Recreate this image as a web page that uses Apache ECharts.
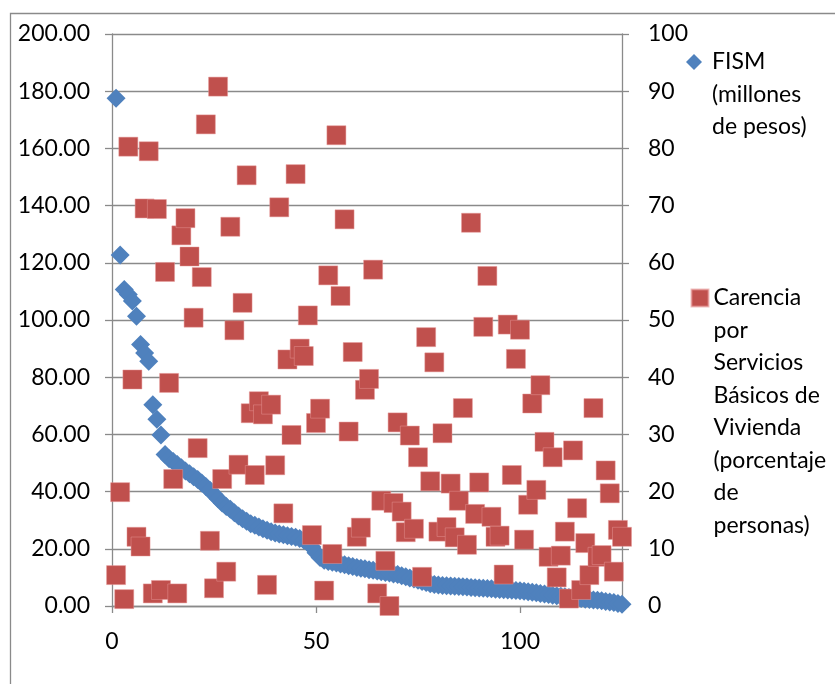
<!DOCTYPE html>
<html>
<head>
<meta charset="utf-8">
<script src="https://cdn.jsdelivr.net/npm/echarts@6/dist/echarts.min.js"></script>
<style>
html,body{margin:0;padding:0;background:#fff;}
#chart{width:835px;height:684px;}
</style>
</head>
<body>
<div id="chart"></div>
<script>
// FISM (millones de pesos), left axis, x = 1..125
var fism = [
  177.5, 122.7, 110.7, 108.9, 106.6, 101.3, 91.4, 88.5, 85.6, 70.4, 65.3, 59.8, 53.0,
  51.5, 50.5, 49.5, 48.3, 47.2, 46.2, 45.2,
  44.2, 43.0, 41.8, 40.5, 39.0, 37.5, 36.0, 34.8, 33.8, 32.6,
  31.5, 30.5, 29.6, 28.8, 28.2, 27.6, 27.0, 26.5, 26.0, 25.5,
  25.2, 24.9, 24.6, 24.3, 24.0, 23.6, 23.1, 22.2, 20.6, 18.6,
  17.0, 16.0, 15.6, 15.3, 15.0, 14.7, 14.4, 14.1, 13.8, 13.5,
  13.2, 13.0, 12.7, 12.5, 12.2, 12.0, 11.7, 11.5, 11.2, 11.0,
  10.6, 10.2, 9.8, 9.4, 9.0, 8.6, 8.2, 7.8, 7.5, 7.3,
  7.2, 7.1, 7.0, 6.9, 6.8, 6.7, 6.6, 6.5, 6.4, 6.3,
  6.2, 6.1, 6.0, 5.9, 5.8, 5.7, 5.6, 5.5, 5.4, 5.3,
  5.2, 5.0, 4.8, 4.6, 4.4, 4.2, 4.0, 3.8, 3.6, 3.4,
  3.2, 3.0, 2.9, 2.7, 2.6, 2.4, 2.3, 2.1, 2.0, 1.8,
  1.6, 1.4, 1.2, 0.9, 0.6
];
// Carencia por Servicios Básicos de Vivienda (porcentaje de personas), right axis
var carencia = [
  5.4, 19.9, 1.2, 80.3, 39.6, 12.1, 10.4, 69.5, 79.5, 2.2,
  69.4, 2.8, 58.4, 39.0, 22.2, 2.2, 64.8, 67.8, 61.1, 50.4,
  27.6, 57.5, 84.2, 11.4, 3.1, 90.8, 22.2, 6.0, 66.3, 48.2,
  24.7, 53.0, 75.3, 33.7, 22.9, 35.8, 33.5, 3.7, 35.2, 24.6,
  69.7, 16.2, 43.1, 29.9, 75.5, 45.0, 43.7, 50.8, 12.4, 32.0,
  34.5, 2.7, 57.8, 9.1, 82.3, 54.2, 67.6, 30.5, 44.4, 12.1,
  13.7, 37.8, 39.7, 58.8, 2.2, 18.4, 7.9, 0.0, 18.0, 32.1,
  16.5, 12.9, 29.8, 13.5, 26.0, 5.1, 47.0, 21.8, 42.6, 13.0,
  30.2, 13.8, 21.4, 12.0, 18.4, 34.6, 10.7, 67.0, 16.1, 21.6,
  48.8, 57.7, 15.6, 12.1, 12.3, 5.5, 49.2, 22.9, 43.2, 48.3,
  11.6, 17.7, 35.4, 20.3, 38.6, 28.7, 8.6, 26.0, 5.0, 8.8,
  13.0, 1.3, 27.2, 17.1, 2.8, 11.0, 5.4, 34.6, 8.6, 8.9,
  23.7, 19.7, 6.0, 13.3, 12.1
];
var xTicks = [0, 50, 100];
var nameF = 'FISM (millones de pesos)';
var nameC = 'Carencia por Servicios Básicos de Vivienda (porcentaje de personas)';
var linesF = ['FISM', '(millones', 'de pesos)'];
var linesC = ['Carencia', 'por', 'Servicios', 'Básicos de', 'Vivienda', '(porcentaje', 'de', 'personas)'];

var FONT = 'Lato';
var LINE = '#8a8a8a';
var LH = 32.5;

// legend text is centred on its icon; leading blank lines put the first line level with the icon
function legendText(lines) {
  var pad = [];
  for (var k = 1; k < lines.length; k++) pad.push('');
  return pad.concat(lines).join('\n');
}

var chart = echarts.init(document.getElementById('chart'), null, {renderer: 'canvas'});
var option = {
  animation: false,
  backgroundColor: '#fff',
  textStyle: {fontFamily: FONT},
  grid: {left: 112, right: 213, top: 34, bottom: 78, containLabel: false},
  graphic: [{
    type: 'rect',
    silent: true,
    shape: {x: 10.5, y: 13.5, width: 1000, height: 1000},
    style: {fill: 'none', stroke: LINE, lineWidth: 1.3}
  }],
  legend: [{
    data: [nameF],
    left: 686, top: 62 - (2 * linesF.length - 1) * LH / 2, padding: 0,
    itemWidth: 16, itemHeight: 16, icon: 'diamond',
    selectedMode: false,
    formatter: function () { return legendText(linesF); },
    textStyle: {fontFamily: FONT, fontSize: 23, lineHeight: LH, color: '#000', padding: [0, 0, 0, 5]}
  }, {
    data: [nameC],
    left: 690.5, top: 298 - (2 * linesC.length - 1) * LH / 2, padding: 0,
    itemWidth: 17, itemHeight: 17, icon: 'rect',
    selectedMode: false,
    formatter: function () { return legendText(linesC); },
    textStyle: {fontFamily: FONT, fontSize: 23, lineHeight: LH, color: '#000'}
  }],
  xAxis: {
    type: 'value', min: 0, max: 125, interval: 50,
    splitLine: {show: false},
    axisLine: {show: true, onZero: false, lineStyle: {color: LINE, width: 1.3}},
    axisTick: {show: true, length: 7, customValues: xTicks, lineStyle: {color: LINE, width: 1.3}},
    axisLabel: {customValues: xTicks, margin: 24, fontFamily: FONT, fontSize: 23, color: '#000'}
  },
  yAxis: [{
    type: 'value', min: 0, max: 200, interval: 20, position: 'left',
    axisLine: {show: true, lineStyle: {color: LINE, width: 1.3}},
    axisTick: {show: true, length: 7, lineStyle: {color: LINE, width: 1.3}},
    splitLine: {show: true, lineStyle: {color: LINE, width: 1.3}},
    axisLabel: {margin: 22, fontFamily: FONT, fontSize: 23, color: '#000',
      formatter: function (v) { return v.toFixed(2); }}
  }, {
    type: 'value', min: 0, max: 100, interval: 10, position: 'right',
    axisLine: {show: true, lineStyle: {color: LINE, width: 1.3}},
    axisTick: {show: true, length: 7, lineStyle: {color: LINE, width: 1.3}},
    splitLine: {show: false},
    axisLabel: {margin: 26, fontFamily: FONT, fontSize: 23, color: '#000'}
  }],
  series: [{
    name: nameF,
    type: 'scatter',
    yAxisIndex: 0,
    clip: false,
    symbol: 'diamond',
    symbolSize: 19,
    itemStyle: {color: '#4F81BD', opacity: 1},
    data: fism.map(function (v, i) { return [i + 1, v]; })
  }, {
    name: nameC,
    type: 'scatter',
    yAxisIndex: 1,
    clip: false,
    symbol: 'rect',
    symbolSize: 19,
    itemStyle: {color: '#C0504D', opacity: 1, borderColor: 'rgba(230,150,150,0.6)', borderWidth: 0.8},
    data: carencia.map(function (v, i) { return [i + 1, v]; })
  }]
};
chart.setOption(option);
</script>
</body>
</html>
